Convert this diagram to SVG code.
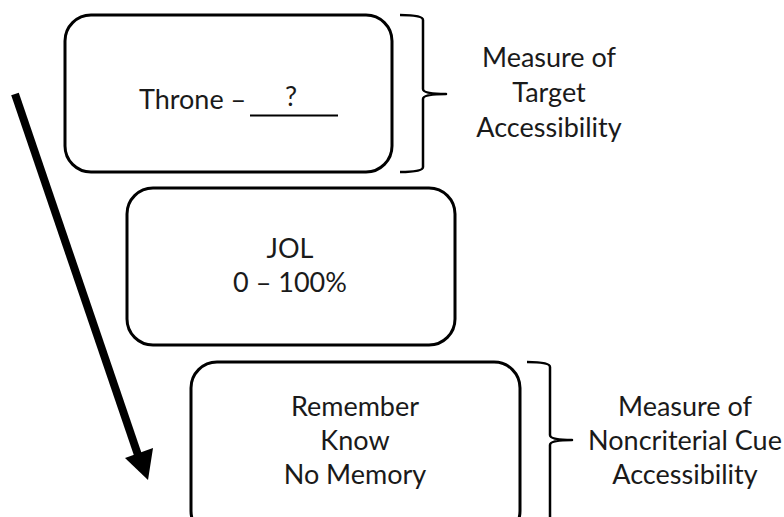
<svg xmlns="http://www.w3.org/2000/svg" width="784" height="517" viewBox="0 0 784 517">
<style>
.box{fill:#fff;stroke:#000;stroke-width:3}
.br{fill:none;stroke:#000;stroke-width:2.5;stroke-linejoin:round}
text{font-family:Lato,"Open Sans",sans-serif;font-size:27px;fill:#1a1a1a;text-anchor:middle}
</style>
<rect width="784" height="517" fill="#fff"/>
<g id="connectors">
<line x1="15" y1="94" x2="138" y2="455" stroke="#000" stroke-width="8"/>
<polygon points="148,480 125,458 153,448" fill="#000"/>
<path class="br" d="M400,15 Q423,15 423,20 L423,89 Q423,94 446,94 Q423,94 423,99 L423,167 Q423,172 400,172"/>
<path class="br" d="M527,362 Q550,362 550,367 L550,435 Q550,440 572,440 Q550,440 550,445 L550,530"/>
</g>
<g id="node-throne">
<rect class="box" x="65" y="15" width="327" height="157" rx="26"/>
<text x="139" y="109" style="text-anchor:start">Throne –</text>
<line x1="250" y1="115.5" x2="338" y2="115.5" stroke="#000" stroke-width="2"/>
<text x="291" y="106">?</text>
</g>
<g id="node-jol">
<rect class="box" x="127" y="188" width="328" height="157" rx="26"/>
<text x="290" y="258">JOL</text>
<text x="290" y="292">0 – 100%</text>
</g>
<g id="node-rk">
<rect class="box" x="191" y="362" width="329" height="175" rx="26"/>
<text x="355" y="416">Remember</text>
<text x="355" y="450">Know</text>
<text x="355" y="484">No Memory</text>
</g>
<g id="label-target">
<text x="549" y="67">Measure of</text>
<text x="549" y="102">Target</text>
<text x="549" y="137">Accessibility</text>
</g>
<g id="label-cue">
<text x="685" y="416">Measure of</text>
<text x="685" y="450">Noncriterial Cue</text>
<text x="685" y="484">Accessibility</text>
</g>
</svg>
